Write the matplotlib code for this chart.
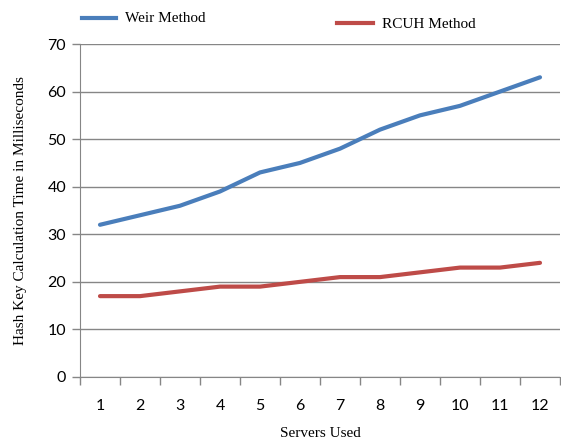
import matplotlib
matplotlib.use("Agg")
import matplotlib.pyplot as plt
from matplotlib.lines import Line2D

servers = [1, 2, 3, 4, 5, 6, 7, 8, 9, 10, 11, 12]
weir = [32, 34, 36, 39, 43, 45, 48, 52, 55, 57, 60, 63]
rcuh = [17, 17, 18, 19, 19, 20, 21, 21, 22, 23, 23, 24]
yticks = [0, 10, 20, 30, 40, 50, 60, 70]

blue = "#4A7EBB"
red = "#BE4B48"
grid = "#868686"

fig = plt.figure(figsize=(5.61, 4.45), dpi=100)
W, H = 561, 445
ax = fig.add_axes([80 / W, 1 - 377 / H, (560 - 80) / W, (377 - 44) / H])

ax.plot(servers, weir, color=blue, lw=3, solid_capstyle="round", solid_joinstyle="round")
ax.plot(servers, rcuh, color=red, lw=3, solid_capstyle="round", solid_joinstyle="round")

ax.set_xlim(0.5, 12.5)
ax.set_ylim(0, 70)
ax.set_yticks(yticks)
ax.set_xticks(servers)
ax.set_xticks([x + 0.5 for x in [0] + servers], minor=True)
ax.tick_params(axis="x", which="major", length=0, pad=16)
ax.tick_params(axis="x", which="minor", length=6, color=grid, width=1)
ax.tick_params(axis="y", length=6, color=grid, width=1, pad=4)
for lab in ax.get_xticklabels() + ax.get_yticklabels():
    lab.set_fontfamily("Lato")
    lab.set_fontsize(11.5)
    lab.set_color("#000000")

ax.yaxis.grid(True, color=grid, lw=1)
ax.set_axisbelow(True)
for s in ["top", "right"]:
    ax.spines[s].set_visible(False)
ax.spines["left"].set_color(grid)
ax.spines["bottom"].set_color(grid)

ax.set_xlabel("Servers Used", family="Liberation Serif", fontsize=11, labelpad=10)
ax.set_ylabel("Hash Key Calculation Time in Milliseconds", family="Liberation Serif", fontsize=11, labelpad=15)

# legend entries
fig.add_artist(Line2D([82 / W, 116 / W], [1 - 18 / H, 1 - 18 / H], color=blue, lw=3))
fig.text(125 / W, 1 - 18 / H, "Weir Method", family="Liberation Serif", fontsize=11, va="center")
fig.add_artist(Line2D([337 / W, 373 / W], [1 - 23 / H, 1 - 23 / H], color=red, lw=3))
fig.text(382 / W, 1 - 25 / H, "RCUH Method", family="Liberation Serif", fontsize=11, va="center")

fig.savefig("out.png", dpi=100)
